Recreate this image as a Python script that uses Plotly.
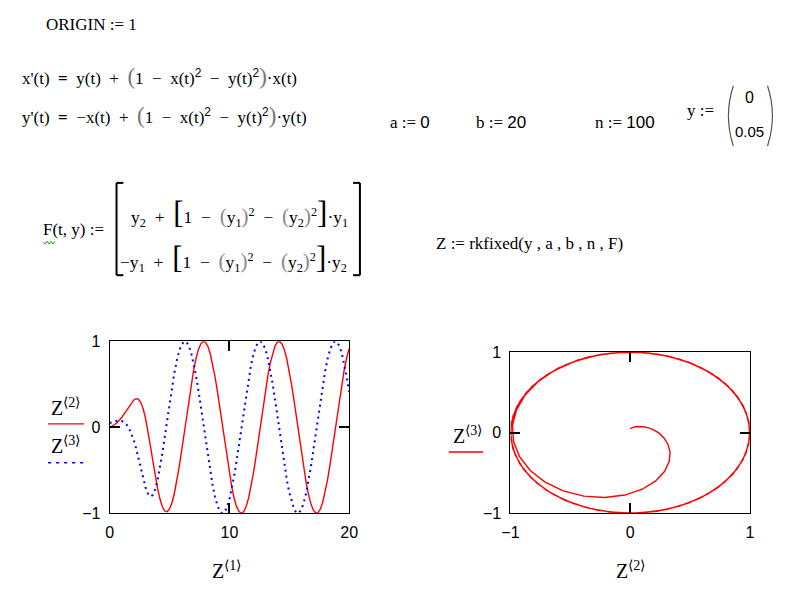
import plotly.graph_objects as go

# ---------------- data (Z = rkfixed result) ----------------
t_vals = [0, 0.2, 0.4, 0.6, 0.8, 1.0, 1.2, 1.4, 1.6, 1.8,
          2.0, 2.2, 2.4, 2.6, 2.8, 3.0, 3.2, 3.4, 3.6, 3.8,
          4.0, 4.2, 4.4, 4.6, 4.8, 5.0, 5.2, 5.4, 5.6, 5.8,
          6.0, 6.2, 6.4, 6.6, 6.8, 7.0, 7.2, 7.4, 7.6, 7.8,
          8.0, 8.2, 8.4, 8.6, 8.8, 9.0, 9.2, 9.4, 9.6, 9.8,
          10.0, 10.2, 10.4, 10.6, 10.8, 11.0, 11.2, 11.4, 11.6, 11.8,
          12.0, 12.2, 12.4, 12.6, 12.8, 13.0, 13.2, 13.4, 13.6, 13.8,
          14.0, 14.2, 14.4, 14.6, 14.8, 15.0, 15.2, 15.4, 15.6, 15.8,
          16.0, 16.2, 16.4, 16.6, 16.8, 17.0, 17.2, 17.4, 17.6, 17.8,
          18.0, 18.2, 18.4, 18.6, 18.8, 19.0, 19.2, 19.4, 19.6, 19.8,
          20.0]

z2_vals = [0.000, 0.012, 0.029, 0.051, 0.079, 0.113, 0.153, 0.196, 0.241, 0.282,
           0.315, 0.333, 0.326, 0.288, 0.213, 0.100, -0.045, -0.213, -0.388, -0.559,
           -0.711, -0.835, -0.924, -0.974, -0.983, -0.950, -0.878, -0.770, -0.630, -0.464,
           -0.279, -0.083, 0.116, 0.311, 0.494, 0.657, 0.794, 0.899, 0.968, 0.999,
           0.989, 0.941, 0.855, 0.734, 0.585, 0.412, 0.223, 0.025, -0.174, -0.366,
           -0.544, -0.700, -0.828, -0.923, -0.981, -1.000, -0.979, -0.919, -0.823, -0.694,
           -0.537, -0.358, -0.166, 0.034, 0.232, 0.420, 0.592, 0.740, 0.859, 0.944,
           0.991, 0.998, 0.966, 0.895, 0.788, 0.650, 0.486, 0.303, 0.108, -0.092,
           -0.288, -0.472, -0.638, -0.778, -0.888, -0.961, -0.997, -0.993, -0.949, -0.867,
           -0.751, -0.605, -0.435, -0.247, -0.050, 0.150, 0.343, 0.523, 0.682, 0.814,
           0.913]

z3_vals = [0.050, 0.060, 0.069, 0.075, 0.077, 0.073, 0.059, 0.034, -0.007, -0.066,
           -0.144, -0.242, -0.356, -0.479, -0.599, -0.702, -0.774, -0.804, -0.787, -0.722,
           -0.614, -0.470, -0.298, -0.110, 0.086, 0.281, 0.466, 0.632, 0.773, 0.884,
           0.959, 0.996, 0.993, 0.950, 0.869, 0.754, 0.608, 0.439, 0.251, 0.054,
           -0.146, -0.339, -0.519, -0.679, -0.811, -0.911, -0.975, -1.000, -0.985, -0.930,
           -0.839, -0.714, -0.561, -0.385, -0.194, 0.004, 0.203, 0.393, 0.568, 0.720,
           0.844, 0.934, 0.986, 0.999, 0.973, 0.907, 0.806, 0.672, 0.512, 0.331,
           0.137, -0.063, -0.260, -0.446, -0.615, -0.760, -0.874, -0.953, -0.994, -0.996,
           -0.958, -0.881, -0.770, -0.628, -0.461, -0.275, -0.079, 0.121, 0.316, 0.498,
           0.660, 0.796, 0.901, 0.969, 0.999, 0.989, 0.939, 0.852, 0.731, 0.581,
           0.408]

left_x_ticks = [0, 10, 20]
right_x_ticks = [-1, 0, 1]
y_ticks = [-1, 0, 1]

# ---------------- helpers ----------------
W, H = 800, 600
def px(x):
    return x / W
def py(y):
    return 1 - y / H

SERIF = "Liberation Serif"
SANS = "Liberation Sans"
NB = "\u00a0"

def txt(x, y, s, size=17, family=SERIF, anchor="left", color="black"):
    return dict(x=px(x), y=py(y), xref="paper", yref="paper", text=s,
                showarrow=False, xanchor=anchor, yanchor="middle",
                font=dict(family=family, size=size, color=color))

def big(ch, size, color="black"):
    return "<span style='font-size:%dpx;color:%s'>%s</span>" % (size, color, ch)

def num(s):
    return "<span style='font-family:Liberation Sans'>%s</span>" % s

def op(s):
    return NB + NB + s + NB + NB

fig = go.Figure()
fig.add_trace(go.Scatter(x=t_vals, y=z2_vals, mode="lines",
                         line=dict(color="#ff0000", width=1.4),
                         xaxis="x", yaxis="y", showlegend=False))
fig.add_trace(go.Scatter(x=t_vals, y=z3_vals, mode="lines",
                         line=dict(color="#0000ff", width=2, dash="2px,4px"),
                         xaxis="x", yaxis="y", showlegend=False))
fig.add_trace(go.Scatter(x=z2_vals, y=z3_vals, mode="lines",
                         line=dict(color="#ff0000", width=1.4),
                         xaxis="x2", yaxis="y2", showlegend=False))

ax = dict(showgrid=False, zeroline=False, showline=True, linecolor="black",
          linewidth=1, mirror="ticks", ticks="inside", ticklen=10, tickwidth=2,
          tickcolor="black", tickfont=dict(family=SANS, size=16, color="black"),
          fixedrange=True, ticklabelstandoff=5)

fig.update_layout(
    width=W, height=H, margin=dict(l=0, r=0, t=0, b=0),
    paper_bgcolor="white", plot_bgcolor="white", showlegend=False,
    xaxis=dict(ax, domain=[px(103), px(348)], range=[0, 20],
               tickvals=left_x_ticks, anchor="y"),
    yaxis=dict(ax, domain=[py(520), py(343)], range=[-1, 1],
               tickvals=y_ticks, anchor="x"),
    xaxis2=dict(ax, domain=[px(513), px(758)], range=[-1, 1],
                tickvals=right_x_ticks, anchor="y2"),
    yaxis2=dict(ax, domain=[py(520), py(354)], range=[-1, 1],
                tickvals=y_ticks, anchor="x2"),
)

P = lambda c: big(c, 23, "#777")
eq1 = ("x'(t)" + op("<b>=</b>") + "y(t)" + op("+") + P("(") + "1" + op("−") + "x(t)<sup>" + num("2")
       + "</sup>" + op("−") + "y(t)<sup>" + num("2") + "</sup>" + P(")") + "·x(t)")
eq2 = ("y'(t)" + op("<b>=</b>") + "−x(t)" + op("+") + P("(") + "1" + op("−") + "x(t)<sup>" + num("2")
       + "</sup>" + op("−") + "y(t)<sup>" + num("2") + "</sup>" + P(")") + "·y(t)")

Q = lambda c: big(c, 21, "#888")
B = lambda c: big(c, 31)
row1 = ("y<sub>2</sub>" + op("+") + B("[") + "1" + op("−") + Q("(") + "y<sub>1</sub>" + Q(")")
        + "<sup>2</sup>" + op("−") + Q("(") + "y<sub>2</sub>" + Q(")") + "<sup>2</sup>" + B("]")
        + "·y<sub>1</sub>")
row2 = ("−y<sub>1</sub>" + op("+") + B("[") + "1" + op("−") + Q("(") + "y<sub>1</sub>" + Q(")")
        + "<sup>2</sup>" + op("−") + Q("(") + "y<sub>2</sub>" + Q(")") + "<sup>2</sup>" + B("]")
        + "·y<sub>2</sub>")

ZS = lambda k: "Z<sup>⟨%s⟩</sup>" % k

annotations = [
    txt(36, 17, "ORIGIN := 1"),
    txt(11, 71, eq1),
    txt(11, 111, eq2),
    txt(388, 118, "a := " + num("0")),
    txt(476, 118, "b := " + num("20")),
    txt(597, 118, "n := " + num("100")),
    txt(692, 106, "y :="),
    txt(758, 92, "0", family=SANS, size=16, anchor="center"),
    txt(758, 127, "0.05", family=SANS, size=15, anchor="center"),
    txt(33, 228, "F(t, y) :="),
    txt(123, 210, row1, size=17.5),
    txt(112, 257, row2, size=17.5),
    txt(435, 242, "Z := rkfixed(y , a , b , n , F)"),
    txt(58, 411, ZS("2"), size=20, anchor="center"),
    txt(58, 450, ZS("3"), size=20, anchor="center"),
    txt(469, 439, ZS("3"), size=20, anchor="center"),
    txt(223, 578, ZS("1"), size=20, anchor="center"),
    txt(636, 578, ZS("2"), size=20, anchor="center"),
]

def line(x0, y0, x1, y1, color="black", width=1, dash=None):
    d = dict(type="line", xref="paper", yref="paper",
             x0=px(x0), y0=py(y0), x1=px(x1), y1=py(y1),
             line=dict(color=color, width=width))
    if dash:
        d["line"]["dash"] = dash
    return d

def path(points, color, width):
    s = "M %f,%f " % (px(points[0][0]), py(points[0][1]))
    s += " ".join("L %f,%f" % (px(a), py(b)) for a, b in points[1:])
    return dict(type="path", xref="paper", yref="paper", path=s,
                line=dict(color=color, width=width))

def curve(p0, c, p1, color="#555", width=1.2):
    s = "M %f,%f Q %f,%f %f,%f" % (px(p0[0]), py(p0[1]), px(c[0]), py(c[1]),
                                   px(p1[0]), py(p1[1]))
    return dict(type="path", xref="paper", yref="paper", path=s,
                line=dict(color=color, width=width))

shapes = [
    # matrix brackets of F
    line(110, 180, 110, 275, width=2),
    line(110, 180, 117, 180, width=2),
    line(110, 275, 117, 275, width=2),
    line(359, 180, 359, 275, width=2),
    line(352, 180, 359, 180, width=2),
    line(352, 275, 359, 275, width=2),
    # vector parens
    curve((741, 80), (731, 111), (741, 142)),
    curve((776, 80), (786, 111), (776, 142)),
    # green squiggle under F
    path([(35, 241), (37, 243), (39, 240), (41, 243), (43, 240), (45, 243), (47, 240)],
         "#2e9e2e", 1),
    # legend samples
    line(40, 428, 77, 428, color="#ff0000", width=1.4),
    line(40, 468, 77, 468, color="#0000ff", width=1.5, dash="3px,5px"),
    line(450, 457, 485, 457, color="#ff0000", width=1.4),
]

fig.update_layout(annotations=annotations, shapes=shapes)
fig.write_html("out.html", config={"displayModeBar": False},
               post_script="document.body.style.margin='0';"
                           "document.documentElement.style.overflow='hidden';")
